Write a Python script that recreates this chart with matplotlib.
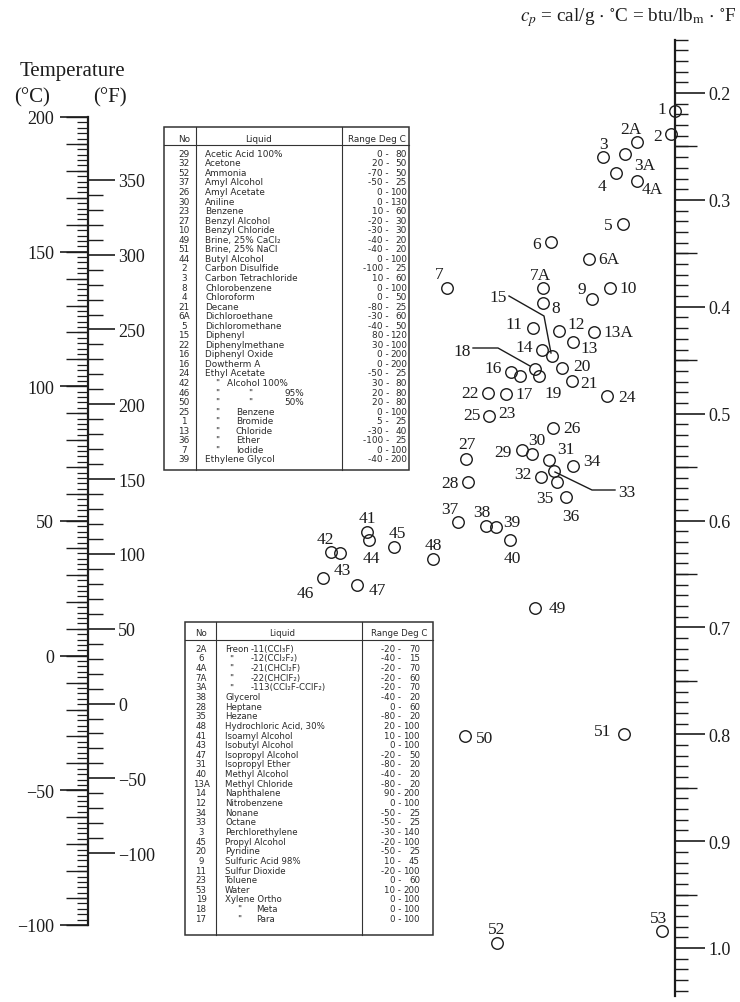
import matplotlib
matplotlib.use("Agg")
import matplotlib.pyplot as plt
from matplotlib.patches import Rectangle
from matplotlib.ticker import FixedLocator, FuncFormatter, NullFormatter
import numpy as np

plt.rcParams["mathtext.fontset"] = "stix"

SERIF = "Liberation Serif"
SANS = "DejaVu Sans"
INK = "#1c1c1c"

# ---------------------------------------------------------------------------
# Liquids: reference number and position on the nomograph grid
# ---------------------------------------------------------------------------
point_id = ["1", "2", "2A", "3", "3A", "4", "4A", "5", "6", "6A",
            "7", "7A", "8", "9", "10", "11", "12", "13A", "13", "14",
            "15", "16", "16", "18", "19", "20", "21", "22", "17", "25",
            "23", "24", "26", "27", "28", "29", "30", "31", "32", "33",
            "", "34", "35", "36", "37", "38", "39", "40", "41", "44",
            "45", "42", "43", "48", "46", "47", "49", "50", "51", "52", "53"]
point_x = [675, 671, 637, 603, 625, 616, 637, 623, 551, 589,
           447, 543, 543, 592, 610, 533, 559, 594, 573, 542,
           552, 511, 520, 535, 539, 562, 572, 488, 506, 489,
           489, 607, 553, 466, 468, 522, 532, 549, 541, 554,
           557, 573, 566, 566, 458, 486, 496, 510, 367, 369,
           394, 331, 340, 433, 323, 357, 535, 465, 624, 497, 662]
point_y = [112, 135, 143, 158, 155, 174, 182, 225, 243, 260,
           289, 289, 304, 300, 289, 329, 332, 333, 343, 351,
           357, 373, 377, 370, 377, 369, 382, 394, 395, 417,
           417, 397, 429, 460, 483, 451, 455, 461, 478, 472,
           483, 467, 498, 498, 523, 527, 528, 541, 533, 541,
           548, 553, 554, 560, 579, 586, 609, 737, 735, 944, 932]

# ---------------------------------------------------------------------------
# Tables of liquids
# ---------------------------------------------------------------------------
t1_no = ["29", "32", "52", "37", "26", "30", "23", "27", "10", "49", "51",
         "44", "2", "3", "8", "4", "21", "6A", "5", "15", "22", "16", "16",
         "24", "42", "46", "50", "25", "1", "13", "36", "7", "39"]
t1_liquid = ["Acetic Acid 100%", "Acetone", "Ammonia", "Amyl Alcohol",
             "Amyl Acetate", "Aniline", "Benzene", "Benzyl Alcohol",
             "Benzyl Chloride", "Brine, 25% CaCl\u2082", "Brine, 25% NaCl",
             "Butyl Alcohol", "Carbon Disulfide", "Carbon Tetrachloride",
             "Chlorobenzene", "Chloroform", "Decane", "Dichloroethane",
             "Dichloromethane", "Diphenyl", "Diphenylmethane",
             "Diphenyl Oxide", "Dowtherm A", "Ethyl Acetate",
             '"  Alcohol 100%', '"  "  95%', '"  "  50%', '"  Benzene',
             '"  Bromide', '"  Chloride', '"  Ether', '"  Iodide',
             "Ethylene Glycol"]
t1_lo = [0, 20, -70, -50, 0, 0, 10, -20, -30, -40, -40, 0, -100, 10, 0, 0,
         -80, -30, -40, 80, 30, 0, 0, -50, 30, 20, 20, 0, 5, -30, -100, 0, -40]
t1_hi = [80, 50, 50, 25, 100, 130, 60, 30, 30, 20, 20, 100, 25, 60, 100, 50,
         25, 60, 50, 120, 100, 200, 200, 25, 80, 80, 80, 100, 25, 40, 25, 100,
         200]

t2_no = ["2A", "6", "4A", "7A", "3A", "38", "28", "35", "48", "41", "43",
         "47", "31", "40", "13A", "14", "12", "34", "33", "3", "45", "20",
         "9", "11", "23", "53", "19", "18", "17"]
t2_liquid = ["Freon  -11(CCl\u2083F)", '"  -12(CCl\u2082F\u2082)',
             '"  -21(CHCl\u2082F)', '"  -22(CHClF\u2082)',
             '"  -113(CCl\u2082F-CClF\u2082)', "Glycerol", "Heptane", "Hezane",
             "Hydrochloric Acid, 30%", "Isoamyl Alcohol", "Isobutyl Alcohol",
             "Isopropyl Alcohol", "Isopropyl Ether", "Methyl Alcohol",
             "Methyl Chloride", "Naphthalene", "Nitrobenzene", "Nonane",
             "Octane", "Perchlorethylene", "Propyl Alcohol", "Pyridine",
             "Sulfuric Acid 98%", "Sulfur Dioxide", "Toluene", "Water",
             "Xylene Ortho", '"  Meta', '"  Para']
t2_lo = [-20, -40, -20, -20, -20, -40, 0, -80, 20, 10, 0, -20, -80, -40, -80,
         90, 0, -50, -50, -30, -20, -50, 10, -20, 0, 10, 0, 0, 0]
t2_hi = [70, 15, 70, 60, 70, 20, 60, 20, 100, 100, 100, 50, 20, 20, 20, 200,
         100, 25, 25, 140, 100, 25, 45, 100, 60, 200, 100, 100, 100]

# ---------------------------------------------------------------------------
# Layout
# ---------------------------------------------------------------------------
FW, FH = 740, 1003
fig = plt.figure(figsize=(FW / 100, FH / 100), dpi=100)
ax = fig.add_axes([0, 0, 1, 1])
ax.set_xlim(0, FW)
ax.set_ylim(FH, 0)
ax.axis("off")


def px(v):
    """pixels -> points"""
    return v * 72 / 100


def scale_axes(x, top, bottom):
    a = fig.add_axes([x / FW, 1 - bottom / FH, 1e-5, (bottom - top) / FH])
    a.patch.set_visible(False)
    for s in a.spines.values():
        s.set_visible(False)
    a.set_xticks([])
    return a


def signed(v, pos=None):
    return f"{v:g}".replace("-", "\u2212")


# ---- temperature scale (deg C on the left, deg F on the right) ----
T_X, T_TOP, T_BOT = 88, 118, 926
C_LO, C_HI = -100, 200

axC = scale_axes(T_X, T_TOP, T_BOT)
axC.set_ylim(C_LO, C_HI)
axC.spines["left"].set_visible(True)
axC.spines["left"].set_linewidth(1.6)
axC.spines["left"].set_color(INK)
axC.yaxis.set_major_locator(FixedLocator(np.arange(C_LO, C_HI + 1, 50)))
axC.yaxis.set_minor_locator(FixedLocator(np.arange(C_LO, C_HI + 1, 2)))
axC.yaxis.set_major_formatter(FuncFormatter(signed))
axC.tick_params(axis="y", which="major", length=px(28), width=1.2, pad=px(6),
                labelsize=13, labelfontfamily=SERIF, color=INK, labelcolor=INK)
axC.tick_params(axis="y", which="minor", length=px(11.5), width=0.9, color=INK)

axC10 = scale_axes(T_X, T_TOP, T_BOT)
axC10.set_ylim(C_LO, C_HI)
axC10.yaxis.set_major_locator(FixedLocator(np.arange(C_LO, C_HI + 1, 10)))
axC10.yaxis.set_major_formatter(NullFormatter())
axC10.tick_params(axis="y", which="major", length=px(22), width=1.0, color=INK)

axF = scale_axes(T_X, T_TOP, T_BOT)
axF.set_ylim(C_LO * 9 / 5 + 32, C_HI * 9 / 5 + 32)
axF.yaxis.tick_right()
axF.yaxis.set_major_locator(FixedLocator(np.arange(-100, 351, 50)))
axF.yaxis.set_minor_locator(FixedLocator(np.arange(-100, 351, 10)))
axF.yaxis.set_major_formatter(FuncFormatter(signed))
axF.tick_params(axis="y", which="major", length=px(27), width=1.2, pad=px(3),
                labelsize=13, labelfontfamily=SERIF, color=INK, labelcolor=INK)
axF.tick_params(axis="y", which="minor", length=px(15), width=1.0, color=INK)

ax.text(72, 71, "Temperature", ha="center", va="center", fontsize=15,
        family=SERIF, color=INK)
ax.text(32, 98, "(\u00b0C)", ha="center", va="center", fontsize=15,
        family=SERIF, color=INK)
ax.text(110, 98, "(\u00b0F)", ha="center", va="center", fontsize=15,
        family=SERIF, color=INK)

# ---- specific heat scale ----
P_X = 675
P_LO, P_HI = 0.15, 1.045
P_Y02, P_Y10 = 94, 949
p_per = (P_Y10 - P_Y02) / 0.8
P_TOP = P_Y02 + (P_LO - 0.2) * p_per
P_BOT = P_Y10 + (P_HI - 1.0) * p_per

axP = scale_axes(P_X, P_TOP, P_BOT)
axP.set_ylim(P_HI, P_LO)
axP.spines["left"].set_visible(True)
axP.spines["left"].set_linewidth(1.6)
axP.spines["left"].set_color(INK)
axP.yaxis.tick_right()
axP.yaxis.set_major_locator(FixedLocator(np.round(np.arange(0.2, 1.01, 0.1), 2)))
axP.yaxis.set_minor_locator(FixedLocator(np.round(np.arange(0.15, 1.041, 0.01), 2)))
axP.yaxis.set_major_formatter(FuncFormatter(lambda v, p: f"{v:.1f}"))
axP.tick_params(axis="y", which="major", length=px(29.5), width=1.2, pad=px(4),
                labelsize=13, labelfontfamily=SERIF, color=INK, labelcolor=INK)
axP.tick_params(axis="y", which="minor", length=px(13), width=1.0, color=INK)

axP5 = scale_axes(P_X, P_TOP, P_BOT)
axP5.set_ylim(P_HI, P_LO)
axP5.yaxis.tick_right()
axP5.yaxis.set_major_locator(FixedLocator(np.round(np.arange(0.25, 0.96, 0.1), 2)))
axP5.yaxis.set_major_formatter(NullFormatter())
axP5.tick_params(axis="y", which="major", length=px(22), width=1.0, color=INK)

ax.text(737, 18, r"$c_p$ = cal/g $\cdot$ $^{\circ}$C = btu/lb$_{\mathrm{m}}$ $\cdot$ $^{\circ}$F",
        ha="right", va="center", fontsize=13.8, family=SERIF, color=INK)

# ---- liquid points ----
seen = set()
for x, y in zip(point_x, point_y):
    if (x, y) in seen:
        continue
    seen.add((x, y))
    ax.plot(x, y, marker="o", ms=8.3, mfc="none", mec=INK, mew=1.0,
            zorder=4)

label_offset = {
    "1": (-13, -4), "2": (-13, 0), "2A": (-6, -15), "3": (0, -15),
    "3A": (20, 9), "4": (-14, 11), "4A": (15, 6), "5": (-15, -1),
    "6": (-14, 0), "6A": (20, -2), "7": (-8, -16), "7A": (-3, -15),
    "8": (13, 3), "9": (-10, -12), "10": (18, -2), "11": (-19, -6),
    "12": (17, -9), "13A": (24, -2), "13": (16, 4), "14": (-18, -5),
    "15": (-54, -61), "16": (-18, -6), "18": (-73, -20), "19": (14, 15),
    "20": (20, -4), "21": (17, 0), "22": (-18, -2), "17": (18, -2),
    "25": (-17, -3), "23": (18, -5), "24": (20, -1), "26": (19, -2),
    "27": (1, -17), "28": (-18, -1), "29": (-19, 0), "30": (5, -16),
    "31": (17, -13), "32": (-18, -5), "33": (73, 19), "34": (19, -7),
    "35": (-21, -1), "36": (5, 17), "37": (-8, -15), "38": (-4, -16),
    "39": (16, -7), "40": (2, 16), "41": (0, -16), "44": (2, 16),
    "45": (3, -16), "42": (-6, -15), "43": (2, 15), "48": (0, -16),
    "46": (-18, 13), "47": (20, 3), "49": (22, -2), "50": (20, 0),
    "51": (-21, -5), "52": (0, -16), "53": (-3, -15),
}
labelled = set()
for pid, x, y in zip(point_id, point_x, point_y):
    if not pid or pid in labelled:
        continue
    labelled.add(pid)
    dx, dy = label_offset[pid]
    ax.text(x + dx, y + dy, pid, ha="center", va="center_baseline",
            fontsize=12.5, family=SERIF, color=INK, zorder=5)

leaders = {
    "15": [(509, 297), (544, 317), (551, 354)],
    "18": [(473, 349), (498, 349), (530, 367)],
    "33": [(555, 473), (592, 491), (615, 491)],
}
for pts in leaders.values():
    xs, ys = zip(*pts)
    ax.plot(xs, ys, color=INK, lw=1.0, zorder=3)


# ---- tables ----
def name_stops(parts, which):
    if which == 1:
        if len(parts) == 3:
            return [(215, "left"), (248, "left"), (304, "right")]
        if parts[1].startswith("Alcohol"):
            return [(215, "left"), (227, "left")]
        return [(215, "left"), (236, "left")]
    if parts[0] == "Freon":
        return [(225, "left"), (251, "left")]
    if parts[1].startswith("-"):
        return [(229, "left"), (251, "left")]
    return [(237, "left"), (256, "left")]


def draw_table(which, nos, names, lo, hi, L):
    x0, x1, y0, y1 = L["box"]
    fs = L["fs"]
    kw = dict(fontsize=fs, family=SANS, color="#2a2a2a", va="center")
    ax.add_patch(Rectangle((x0, y0), x1 - x0, y1 - y0, fill=False,
                           lw=1.1, ec="#333333", zorder=2))
    ax.plot([x0, x1], [L["rule"], L["rule"]], color="#333333", lw=0.8)
    for cx in L["cols"]:
        ax.plot([cx, cx], [y0, y1], color="#333333", lw=0.8)
    hy = L["head_y"]
    ax.text(L["no_x"], hy, "No", ha="center", **kw)
    ax.text(L["liq_head_x"], hy, "Liquid", ha="center", **kw)
    ax.text(L["rng_head_x"], hy, "Range Deg C", ha="center", **kw)
    for i, (n, name, a, b) in enumerate(zip(nos, names, lo, hi)):
        y = L["row0"] + i * L["dy"]
        ax.text(L["no_x"], y, n, ha="center", **kw)
        parts = name.split("  ")
        if len(parts) == 1:
            ax.text(L["name_x"], y, name, ha="left", **kw)
        else:
            for part, (sx, ha) in zip(parts, name_stops(parts, which)):
                ax.text(sx, y, part, ha=ha, **kw)
        ax.text(L["dash_x"], y, f"{a} -", ha="right", **kw)
        ax.text(L["end_x"], y, f"{b}", ha="right", **kw)


table1_layout = dict(box=(164, 409, 128, 471), rule=146, cols=(196, 342),
                     head_y=139, row0=154.3, dy=9.55, no_x=184, name_x=205,
                     liq_head_x=259, rng_head_x=377, dash_x=389, end_x=407,
                     fs=6.4)
table2_layout = dict(box=(185, 433, 623, 936), rule=641, cols=(216, 362),
                     head_y=634, row0=649.3, dy=9.64, no_x=201, name_x=225,
                     liq_head_x=282, rng_head_x=399, dash_x=401, end_x=420,
                     fs=6.2)

draw_table(1, t1_no, t1_liquid, t1_lo, t1_hi, table1_layout)
draw_table(2, t2_no, t2_liquid, t2_lo, t2_hi, table2_layout)

fig.savefig("out.png", dpi=100, facecolor="white")
